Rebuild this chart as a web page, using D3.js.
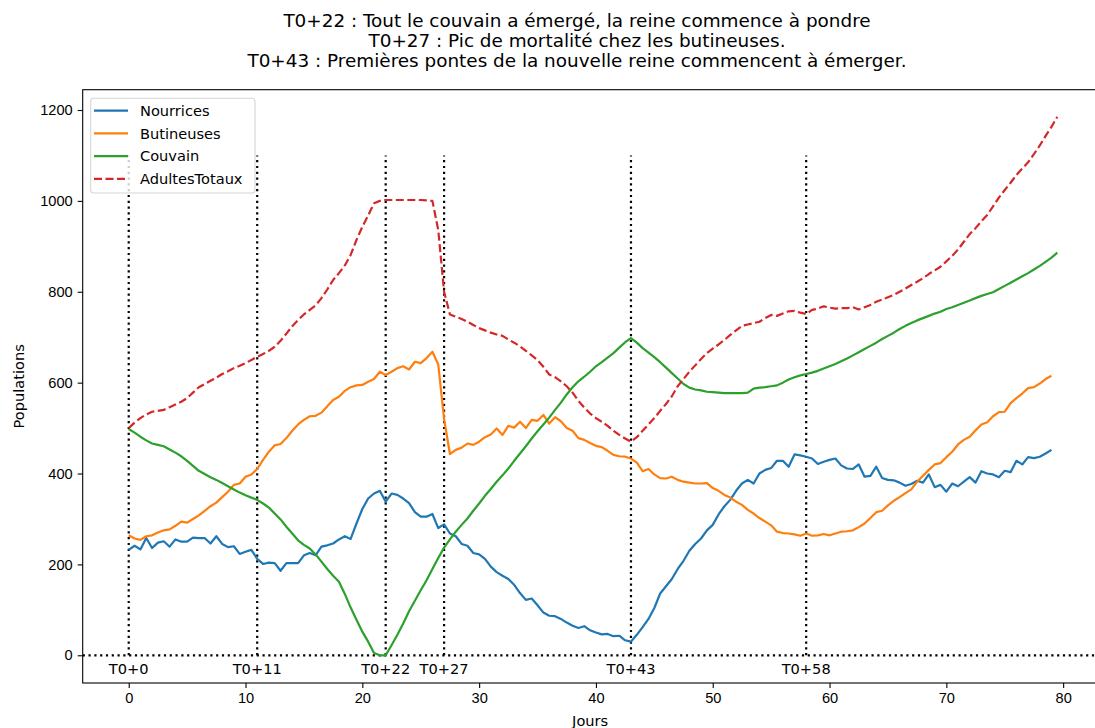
<!DOCTYPE html>
<html>
<head>
<meta charset="UTF-8">
<script src="https://d3js.org/d3.v7.min.js"></script>
<style>
  body { margin: 0; background: #fff; }
  svg { display: block; font-family: "DejaVu Sans", sans-serif; }
  .tick text { font-size: 14.6px; fill: #000; }
</style>
<title>Populations</title>
</head>
<body>
<svg width="1095" height="728"></svg>
<script>
// pas de temps (jours) entre deux valeurs d'une série
var pas = 0.5;

var nourrices = [232,241,233,258,236,248,251,239,255,250,250,259,258,258,246,262,245,238,240,223,
  228,232,212,201,204,203,186,203,203,203,220,225,220,239,242,246,255,262,256,290,
  322,345,356,362,338,356,353,345,335,315,305,305,311,280,288,268,262,245,241,225,
  222,212,195,183,175,168,155,137,122,125,110,94,87,86,80,72,65,60,64,55,
  50,46,47,42,43,33,30,45,62,80,104,136,152,168,190,208,230,245,257,275,
  287,310,328,342,362,378,386,378,400,408,412,428,428,415,442,440,437,433,421,426,
  430,433,418,411,410,420,393,395,415,390,386,385,380,373,377,384,380,398,370,375,
  360,378,372,382,392,380,405,400,398,392,406,403,428,420,436,434,437,444,452];

var butineuses = [264,257,254,262,264,270,275,277,285,294,292,300,308,318,328,336,348,360,375,378,
  393,398,410,430,448,462,465,478,494,508,518,526,527,534,548,562,569,582,590,594,
  595,602,608,624,617,624,632,636,629,646,643,654,668,640,520,443,452,457,466,463,
  470,480,486,499,485,505,501,514,500,518,516,529,510,524,515,500,494,478,474,467,
  461,458,450,441,438,437,433,424,405,410,398,390,389,393,386,382,380,378,378,379,
  368,362,353,347,338,331,320,312,302,294,286,272,269,268,266,263,268,263,264,267,
  264,268,272,273,275,282,290,302,315,318,330,340,348,357,365,382,395,408,420,423,
  436,448,464,474,481,495,508,513,526,535,536,555,566,576,588,590,598,608,615];

var couvain = [498,490,481,473,466,463,460,453,446,438,428,417,406,399,392,386,379,372,365,358,
  352,347,342,334,325,312,299,283,268,253,243,235,222,206,190,175,162,135,105,78,
  52,30,5,0,0,22,45,70,97,120,143,165,190,214,237,255,272,287,301,318,
  334,351,366,382,396,411,428,444,460,477,493,508,523,540,556,574,590,603,613,624,
  636,645,655,665,677,689,698,688,676,666,656,645,633,621,609,597,589,585,583,580,
  579,578,577,577,577,577,578,587,589,590,592,594,600,607,612,616,619,622,626,631,
  636,641,647,653,660,667,674,681,688,696,703,710,718,725,731,737,742,747,752,756,
  762,766,771,776,781,786,791,795,799,806,813,820,827,834,841,849,857,866,875,886];

var adultesTotaux = [500,512,522,530,536,538,540,546,552,558,566,578,590,597,604,611,619,625,632,637,
  643,650,657,663,670,679,692,708,724,738,750,760,770,786,805,826,841,858,881,914,
  943,968,995,1000,1002,1002,1002,1002,1002,1002,1002,1001,1000,936,800,750,745,740,734,727,
  720,715,710,706,703,695,688,680,670,660,650,635,618,612,603,592,578,560,545,532,
  522,514,505,494,485,477,470,480,494,508,522,538,553,570,592,608,624,638,652,665,
  675,684,694,705,715,725,728,731,734,742,749,747,752,757,758,754,751,760,763,768,
  765,763,764,764,766,761,766,771,778,783,788,793,800,807,815,822,830,839,847,855,
  867,879,893,910,927,940,955,969,988,1007,1024,1040,1057,1071,1085,1103,1122,1143,1163,1185];

// jours marquants (lignes verticales pointillées) et hauteur des lignes
var evenements = [0, 11, 22, 27, 43, 58];
var hautEvenement = 1100;
var basTexteEvenement = -41;

var xTicks = [0, 10, 20, 30, 40, 50, 60, 70, 80];
var yTicks = [0, 200, 400, 600, 800, 1000, 1200];

var titre = [
  "T0+22 : Tout le couvain a émergé, la reine commence à pondre",
  "T0+27 : Pic de mortalité chez les butineuses.",
  "T0+43 : Premières pontes de la nouvelle reine commencent à émerger."
];

var series = [
  { nom: "Nourrices", valeurs: nourrices, couleur: "#1f77b4", tirets: null },
  { nom: "Butineuses", valeurs: butineuses, couleur: "#ff7f0e", tirets: null },
  { nom: "Couvain", valeurs: couvain, couleur: "#2ca02c", tirets: null },
  { nom: "AdultesTotaux", valeurs: adultesTotaux, couleur: "#d62728", tirets: "8,3.5" }
];

var svg = d3.select("svg");
var axG = 82.7, axD = 1097.6, axH = 89.7, axB = 683;

var x = d3.scaleLinear().domain([-3.94, 82.95]).range([axG, axD]);
var y = d3.scaleLinear().domain([-61, 1244.7]).range([axB, axH]);

// Titre
var t = svg.append("text")
  .attr("text-anchor", "middle")
  .attr("font-size", "18.4px")
  .attr("fill", "#000");
titre.forEach(function(l, i) {
  t.append("tspan").attr("x", 577).attr("y", 26.5 + i * 20).text(l);
});

svg.append("clipPath").attr("id", "zone")
  .append("rect").attr("x", axG).attr("y", axH)
  .attr("width", axD - axG).attr("height", axB - axH);

var g = svg.append("g").attr("clip-path", "url(#zone)");

// ligne horizontale à 0
g.append("line")
  .attr("x1", axG).attr("x2", axD)
  .attr("y1", y(0)).attr("y2", y(0))
  .attr("stroke", "#000").attr("stroke-width", 2.2)
  .attr("stroke-dasharray", "2.2,3.6");

// lignes verticales
g.selectAll(".evt")
  .data(evenements)
  .enter().append("line")
  .attr("class", "evt")
  .attr("x1", function(d) { return x(d); })
  .attr("x2", function(d) { return x(d); })
  .attr("y1", y(0)).attr("y2", y(hautEvenement))
  .attr("stroke", "#000").attr("stroke-width", 2.2)
  .attr("stroke-dasharray", "2.2,3.6");

var line = d3.line()
  .x(function(d, i) { return x(i * pas); })
  .y(function(d) { return y(d); });

g.selectAll(".serie")
  .data(series)
  .enter().append("path")
  .attr("class", "serie")
  .attr("d", function(s) { return line(s.valeurs); })
  .attr("fill", "none")
  .attr("stroke", function(s) { return s.couleur; })
  .attr("stroke-width", 2.2)
  .attr("stroke-linejoin", "round")
  .attr("stroke-dasharray", function(s) { return s.tirets; });

// étiquettes T0+N
svg.selectAll(".lbl")
  .data(evenements)
  .enter().append("text")
  .attr("class", "lbl")
  .attr("x", function(d) { return x(d); })
  .attr("y", y(basTexteEvenement))
  .attr("text-anchor", "middle")
  .attr("font-size", "14.6px")
  .text(function(d) { return "T0+" + d; });

// axes
var ax = svg.append("g")
  .attr("transform", "translate(0," + axB + ")")
  .call(d3.axisBottom(x).tickValues(xTicks).tickSize(5).tickPadding(5).tickFormat(d3.format("d")));
var ay = svg.append("g")
  .attr("transform", "translate(" + axG + ",0)")
  .call(d3.axisLeft(y).tickValues(yTicks).tickSize(5).tickPadding(5).tickFormat(d3.format("d")));
[ax, ay].forEach(function(a) {
  a.select(".domain").remove();
  a.selectAll(".tick line").attr("stroke", "#000").attr("stroke-width", 1.1);
});

svg.append("rect")
  .attr("x", axG).attr("y", axH)
  .attr("width", axD - axG).attr("height", axB - axH)
  .attr("fill", "none").attr("stroke", "#000").attr("stroke-width", 1.1);

svg.append("text")
  .attr("x", (axG + axD) / 2).attr("y", 726)
  .attr("text-anchor", "middle").attr("font-size", "14.6px")
  .text("Jours");

svg.append("text")
  .attr("transform", "translate(24," + (axH + axB) / 2 + ") rotate(-90)")
  .attr("text-anchor", "middle").attr("font-size", "14.6px")
  .text("Populations");

// légende
var leg = svg.append("g");
leg.append("rect")
  .attr("x", 90.7).attr("y", 98.3).attr("width", 164.3).attr("height", 94.7)
  .attr("rx", 3).attr("fill", "#fff").attr("fill-opacity", 0.8)
  .attr("stroke", "#d6d6d6").attr("stroke-width", 1.1);
var items = leg.selectAll(".item")
  .data(series)
  .enter().append("g")
  .attr("transform", function(d, i) { return "translate(0," + (110.7 + i * 22.7) + ")"; });
items.append("line")
  .attr("x1", 94).attr("x2", 128)
  .attr("stroke", function(s) { return s.couleur; })
  .attr("stroke-width", 2.2)
  .attr("stroke-dasharray", function(s) { return s.tirets; });
items.append("text")
  .attr("x", 140).attr("y", 5.3)
  .attr("font-size", "14.6px")
  .text(function(s) { return s.nom; });
</script>
</body>
</html>
